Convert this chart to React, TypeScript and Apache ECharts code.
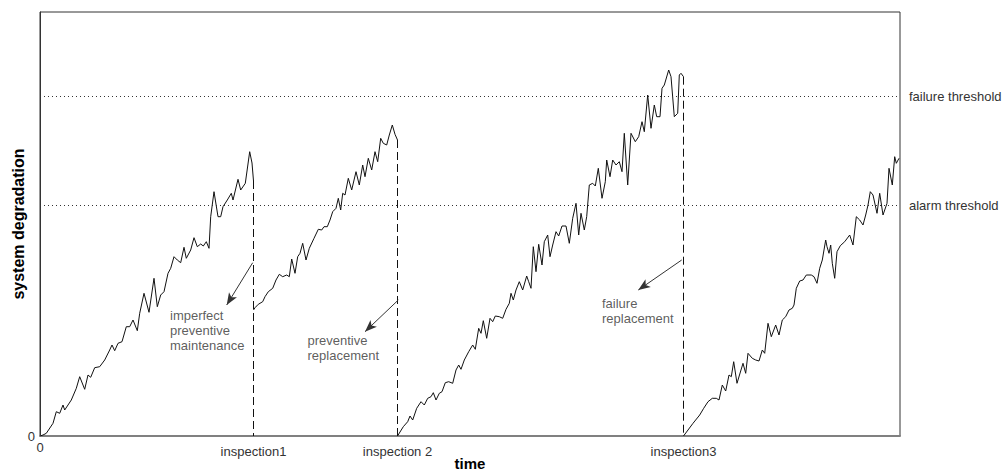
import React, { useEffect, useRef } from "react";
import * as echarts from "echarts";

// time (x) and system degradation (y) pairs for each renewal cycle
const cycle1: number[][] = [
  [0, 0], [3, 1], [6.3, 2.7], [13, 12.7], [16.3, 24.3], [19.7, 22.7], [23, 31], [24.7, 26], [31.3, 36], [36.3, 47.7],
  [39.7, 59.3], [44.7, 46.7], [48, 61], [50.7, 58.7], [54.7, 68.3], [59.7, 69.3], [64.7, 76], [69.7, 86], [72, 91],
  [74.7, 85.3], [78, 92.7], [82, 94.3], [86.3, 109.3], [89.7, 109.3], [93, 116], [97.3, 105.3], [99.7, 122.7],
  [104, 142.7], [109, 123.7], [114, 157.7], [117.3, 129.3], [120.7, 141], [124, 144.3], [128, 162.7], [130.7, 167.7],
  [134, 179.3], [137.3, 176], [140.7, 173.3], [144, 188.7], [146.3, 177.7], [150.7, 186], [154, 198.3], [157.3, 189.3],
  [160.7, 192], [163.3, 190], [166.3, 194.3], [169, 187.7], [170.7, 219.3], [174, 244.3], [178, 219.3], [180.7, 219.3],
  [183, 229.3], [187.3, 236], [191.3, 242.7], [193, 236], [198, 256.7], [200.7, 246], [205.3, 252.7], [209.7, 284.3],
  [212, 273], [213.5, 255],
];
const cycle2: number[][] = [
  [213.5, 126], [215, 128.3], [218.3, 131.7], [222.7, 134.3], [225, 139.3], [228.3, 144.3], [232.7, 147.7], [236, 156],
  [239.3, 161.7], [242.7, 159.3], [246.7, 161], [249.3, 159.3], [251.7, 177], [255, 162.7], [257.7, 179.3],
  [260, 182.7], [262.7, 192.7], [266, 176], [269.3, 187.7], [274, 197.7], [278.3, 206.7], [281.7, 206], [284, 209.3],
  [287.3, 209.3], [290, 216], [292.7, 224.3], [296, 227.7], [298.3, 237.7], [300.7, 226], [302.7, 242.7], [305, 241],
  [308.3, 257.7], [311.7, 246], [316, 264.3], [319.3, 251], [322.7, 271], [325, 259.3], [328.3, 277.7], [331.7, 266],
  [335, 284.3], [337.7, 274.3], [340.7, 297.7], [343.3, 292.7], [346.7, 291], [349.3, 301], [352.3, 311],
  [355, 301.7], [357.5, 296],
];
const cycle3: number[][] = [
  [357.5, 0], [363.3, 9.3], [367.7, 14.3], [370, 20], [372.7, 16], [376.7, 27.7], [381, 34.3], [384.3, 31], [387.7, 37.7],
  [391, 39.3], [393.3, 43.3], [396, 36], [399.3, 42.7], [402, 44.3], [405.3, 53.3], [408.7, 54.3], [412.7, 52.7],
  [416, 66], [418.7, 71], [421, 66.7], [424.3, 76], [428.7, 84.3], [432.7, 91], [435.3, 86.7], [438.7, 107.7],
  [441, 102.7], [443.3, 115.3], [446.7, 97.7], [450, 117.7], [452.7, 114.3], [455.3, 120], [459.3, 119.3],
  [462.7, 117.7], [466, 126.7], [469.3, 132.7], [471, 142.7], [473.3, 136], [476, 146], [479.3, 154.3], [482.7, 146],
  [486.7, 160], [488.7, 154.3], [491, 147.7], [493.3, 189.3], [496, 164.3], [498.7, 191.7], [502, 171], [504.3, 194.3],
  [507.7, 201], [510, 179.3], [512.7, 191], [516, 204.3], [518.7, 200], [522, 210], [526, 210], [529.3, 192.7],
  [532.7, 217.7], [536, 232.7], [538.7, 201], [541, 222.7], [544.3, 206], [546.7, 219.3], [549.3, 251], [552.7, 252.7],
  [555.3, 250], [558.3, 267.7], [562, 237.7], [565.3, 254.3], [566.7, 276], [570, 259.3], [572.7, 276], [576, 271],
  [579.3, 274.3], [582, 264.3], [584.3, 302.7], [587.7, 251], [591, 302.7], [595.3, 294.3], [598.7, 299.3],
  [602, 314.3], [604.3, 304.3], [607.7, 341], [611, 307.7], [614.3, 331], [616.7, 319.3], [620, 319.3], [622, 347.7],
  [624.3, 351], [628.7, 366], [631, 359.3], [634.3, 319.3], [637.7, 322.7], [639.3, 361], [641, 362.7], [643.5, 359.3],
];
const cycle4: number[][] = [
  [643.5, 0], [648, 6], [653, 12.7], [659.7, 21], [663.7, 27.7], [668, 34.3], [672.3, 37.7], [676.3, 37.7], [679, 36],
  [682.3, 51], [685.7, 45], [689, 61], [691.3, 59.3], [693.7, 74.3], [697, 52.7], [703, 72.7], [705.7, 62.7],
  [708, 82.7], [712.3, 77.7], [715.7, 76], [719, 75], [722.3, 86], [724.7, 82.7], [728, 112.7], [731.3, 99.3],
  [735.7, 111], [739, 101], [742.3, 116], [745.7, 119.3], [749, 126], [752.3, 127.7], [754, 131], [756.3, 147.7],
  [759.7, 155], [763, 156], [766.3, 161], [771.3, 161], [774, 159.3], [777, 152.7], [779.7, 167.7], [782.3, 176],
  [785.7, 196], [787, 189.3], [789, 182.7], [790.7, 191], [792.3, 172.7], [794.7, 157.7], [797, 184.3], [800.3, 190.3],
  [804.7, 194.3], [809.7, 201], [813, 191], [816.3, 219.3], [819.7, 216], [823, 211], [825.7, 221], [828, 231],
  [830.3, 244.3], [833, 241], [837, 222.7], [839.7, 242.7], [843, 221], [847, 232.7], [849, 267.7], [852.3, 251],
  [854.7, 279.3], [856.3, 272.7], [859, 277.7],
];

// inspection times and the degradation level at which each cycle ends
const inspectionTimes = [213.5, 357.5, 643.5];
const inspectionTops = [255, 296, 359.3];

// thresholds
const thresholdNames = ["failure threshold", "alarm threshold"];
const thresholdValues = [339.5, 230.5];

// x-axis tick values and labels
const xTickValues = [0, 213.5, 357.5, 643.5];
const xTickLabels = ["0", "inspection1", "inspection 2", "inspection3"];

// annotations: arrow start, arrow end, text anchor, text
const arrowFrom = [[212.7, 173.3], [358.3, 136], [641.7, 176]];
const arrowTo = [[186.7, 131], [325, 104.3], [598.3, 146]];
const noteAnchors = [[130.5, 128], [268, 102.5], [562.5, 140]];
const noteTexts = ["imperfect\npreventive\nmaintenance", "preventive\nreplacement", "failure\nreplacement"];

const FONT = "Arial, 'Liberation Sans', sans-serif";

export default function App() {
  const ref = useRef<HTMLDivElement>(null);
  useEffect(() => {
    if (!ref.current) return;
    const chart = echarts.init(ref.current, undefined, { renderer: "svg" });
    const lineColor = "#111";
    const series: any[] = [];
    [cycle1, cycle2, cycle3, cycle4].forEach((c, i) => {
      series.push({
        type: "line",
        name: "cycle" + (i + 1),
        data: c,
        symbol: "none",
        lineStyle: { color: lineColor, width: 1 },
        silent: true,
      });
    });
    inspectionTimes.forEach((t, i) => {
      series.push({
        type: "line",
        data: [[t, inspectionTops[i]], [t, 0]],
        symbol: "none",
        lineStyle: { color: lineColor, width: 1, type: [8, 4] },
        silent: true,
      });
    });
    thresholdValues.forEach((v, i) => {
      series.push({
        type: "line",
        data: [[0, v], [860, v]],
        symbol: "none",
        lineStyle: { color: "#333", width: 1, type: [1, 3] },
        silent: true,
        endLabel: {
          show: true,
          formatter: thresholdNames[i],
          distance: 9,
          fontSize: 13,
          color: "#333",
          fontFamily: FONT,
        },
      });
    });
    series.push({
      type: "line",
      data: [],
      silent: true,
      markLine: {
        silent: true,
        symbol: ["none", "arrow"],
        symbolSize: [7, 12],
        label: { show: false },
        lineStyle: { color: "#333", width: 1, type: "solid" },
        data: arrowFrom.map((f, i) => [{ coord: f }, { coord: arrowTo[i] }]),
      },
    });
    series.push({
      type: "scatter",
      symbolSize: 1,
      itemStyle: { color: "rgba(0,0,0,0)" },
      silent: true,
      data: noteAnchors.map((p, i) => ({
        value: p,
        label: { formatter: noteTexts[i] },
      })),
      label: {
        show: true,
        position: [0, 0],
        align: "left",
        verticalAlign: "top",
        fontSize: 13,
        lineHeight: 15,
        color: "#333",
        fontFamily: FONT,
      },
    });

    chart.setOption({
      animation: false,
      textStyle: { fontFamily: FONT },
      grid: {
        left: 40, top: 12, right: 104, bottom: 35, show: true, borderColor: "#333", borderWidth: 1,
        containLabel: false, outerBoundsMode: "none",
      },
      xAxis: {
        type: "value",
        min: 0,
        max: 860,
        splitLine: { show: false },
        axisTick: { show: false },
        axisLine: { show: true, onZero: false, lineStyle: { color: "#808080", width: 2 } },
        axisLabel: {
          customValues: xTickValues,
          margin: 5,
          fontSize: 13,
          color: "#333",
          fontFamily: FONT,
          formatter: (v: number) => {
            const idx = xTickValues.indexOf(v);
            const s = idx >= 0 ? xTickLabels[idx] : "";
            return v === 0 ? "{z|" + s + "}" : "{i|" + s + "}";
          },
          rich: {
            z: { fontSize: 13, color: "#333", fontFamily: FONT },
            i: { fontSize: 13, color: "#333", fontFamily: FONT, padding: [4, 0, 0, 0] },
          },
        },
        name: "time",
        nameLocation: "middle",
        nameGap: 20,
        nameMoveOverlap: false,
        nameTextStyle: { fontWeight: "bold", fontSize: 15, color: "#000", fontFamily: FONT },
      },
      yAxis: {
        type: "value",
        min: 0,
        max: 424,
        splitLine: { show: false },
        axisTick: { show: false },
        axisLine: { show: true, lineStyle: { color: "#333", width: 1 } },
        axisLabel: {
          customValues: [0],
          margin: 5,
          fontSize: 13,
          color: "#333",
          fontFamily: FONT,
        },
        name: "system degradation",
        nameLocation: "middle",
        nameGap: 14,
        nameMoveOverlap: false,
        nameRotate: 90,
        nameTextStyle: { fontWeight: "bold", fontSize: 16, color: "#000", fontFamily: FONT },
      },
      series,
    });
    return () => chart.dispose();
  }, []);
  return (
    <div
      ref={ref}
      style={{ position: "absolute", left: 0, top: 0, width: 1004, height: 471, background: "#fff" }}
    />
  );
}
